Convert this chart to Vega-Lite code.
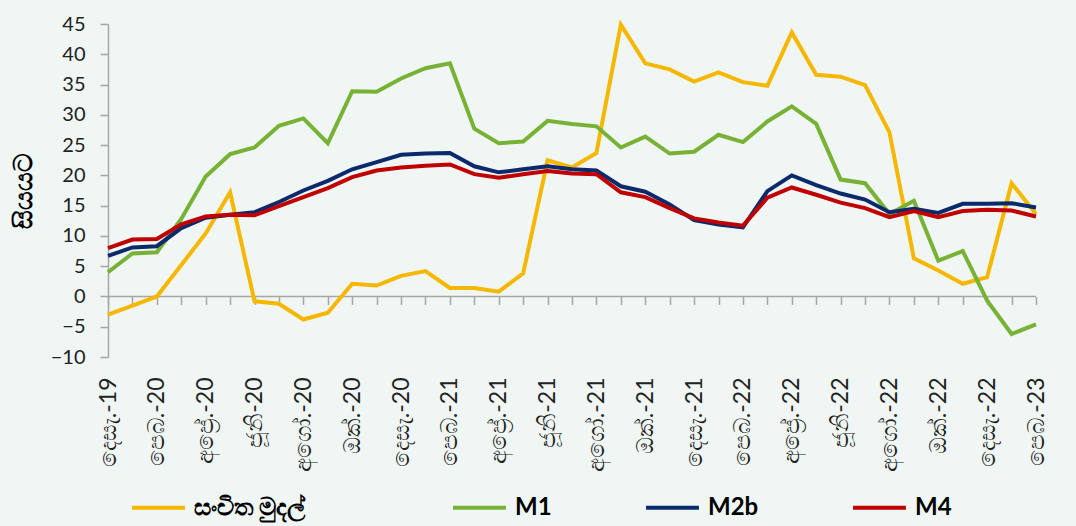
{
  "$schema": "https://vega.github.io/schema/vega-lite/v6.json",
  "width": 928,
  "height": 333,
  "autosize": {"type": "none"},
  "padding": {"left": 108, "top": 24, "right": 40, "bottom": 169},
  "background": "#F0F6F4",
  "config": {"view": {"stroke": null}, "font": "Lato"},
  "data": {"values": [
    {"month": "දෙසැ.-19", "reserve": -3.0, "m1": 4.0, "m2b": 6.7, "m4": 8.0},
    {"month": "ජන.-20", "reserve": -1.5, "m1": 7.1, "m2b": 8.1, "m4": 9.4},
    {"month": "පෙබ.-20", "reserve": 0.0, "m1": 7.3, "m2b": 8.3, "m4": 9.5},
    {"month": "මාර්.-20", "reserve": 5.2, "m1": 12.8, "m2b": 11.3, "m4": 11.9},
    {"month": "අප්\u200dරේ.-20", "reserve": 10.4, "m1": 19.8, "m2b": 13.0, "m4": 13.2},
    {"month": "මැයි-20", "reserve": 17.2, "m1": 23.5, "m2b": 13.5, "m4": 13.5},
    {"month": "ජූනි-20", "reserve": -0.8, "m1": 24.6, "m2b": 13.9, "m4": 13.4},
    {"month": "ජූලි-20", "reserve": -1.2, "m1": 28.2, "m2b": 15.6, "m4": 14.9},
    {"month": "අගෝ.-20", "reserve": -3.8, "m1": 29.4, "m2b": 17.5, "m4": 16.4},
    {"month": "සැප්.-20", "reserve": -2.7, "m1": 25.3, "m2b": 19.1, "m4": 17.9},
    {"month": "ඔක්.-20", "reserve": 2.1, "m1": 33.9, "m2b": 21.0, "m4": 19.7},
    {"month": "නොවැ.-20", "reserve": 1.8, "m1": 33.8, "m2b": 22.2, "m4": 20.8},
    {"month": "දෙසැ.-20", "reserve": 3.4, "m1": 36.0, "m2b": 23.4, "m4": 21.3},
    {"month": "ජන.-21", "reserve": 4.2, "m1": 37.7, "m2b": 23.6, "m4": 21.6},
    {"month": "පෙබ.-21", "reserve": 1.4, "m1": 38.5, "m2b": 23.7, "m4": 21.8},
    {"month": "මාර්.-21", "reserve": 1.4, "m1": 27.7, "m2b": 21.5, "m4": 20.2},
    {"month": "අප්\u200dරේ.-21", "reserve": 0.8, "m1": 25.3, "m2b": 20.5, "m4": 19.6},
    {"month": "මැයි-21", "reserve": 3.8, "m1": 25.6, "m2b": 21.0, "m4": 20.2},
    {"month": "ජූනි-21", "reserve": 22.5, "m1": 29.0, "m2b": 21.5, "m4": 20.7},
    {"month": "ජූලි-21", "reserve": 21.3, "m1": 28.5, "m2b": 21.0, "m4": 20.3},
    {"month": "අගෝ.-21", "reserve": 23.7, "m1": 28.1, "m2b": 20.8, "m4": 20.2},
    {"month": "සැප්.-21", "reserve": 44.9, "m1": 24.6, "m2b": 18.2, "m4": 17.2},
    {"month": "ඔක්.-21", "reserve": 38.5, "m1": 26.4, "m2b": 17.3, "m4": 16.4},
    {"month": "නොවැ.-21", "reserve": 37.5, "m1": 23.6, "m2b": 15.2, "m4": 14.6},
    {"month": "දෙසැ.-21", "reserve": 35.5, "m1": 23.9, "m2b": 12.6, "m4": 12.9},
    {"month": "ජන.-22", "reserve": 37.0, "m1": 26.7, "m2b": 11.9, "m4": 12.2},
    {"month": "පෙබ.-22", "reserve": 35.4, "m1": 25.5, "m2b": 11.4, "m4": 11.7},
    {"month": "මාර්.-22", "reserve": 34.8, "m1": 28.9, "m2b": 17.4, "m4": 16.3},
    {"month": "අප්\u200dරේ.-22", "reserve": 43.6, "m1": 31.4, "m2b": 20.0, "m4": 18.0},
    {"month": "මැයි-22", "reserve": 36.6, "m1": 28.5, "m2b": 18.4, "m4": 16.8},
    {"month": "ජූනි-22", "reserve": 36.3, "m1": 19.3, "m2b": 17.0, "m4": 15.5},
    {"month": "ජූලි-22", "reserve": 34.9, "m1": 18.7, "m2b": 16.0, "m4": 14.6},
    {"month": "අගෝ.-22", "reserve": 27.1, "m1": 13.6, "m2b": 13.9, "m4": 13.1},
    {"month": "සැප්.-22", "reserve": 6.3, "m1": 15.8, "m2b": 14.5, "m4": 14.1},
    {"month": "ඔක්.-22", "reserve": 4.3, "m1": 5.9, "m2b": 13.8, "m4": 13.1},
    {"month": "නොවැ.-22", "reserve": 2.1, "m1": 7.5, "m2b": 15.3, "m4": 14.1},
    {"month": "දෙසැ.-22", "reserve": 3.2, "m1": -0.7, "m2b": 15.3, "m4": 14.3},
    {"month": "ජන.-23", "reserve": 18.7, "m1": -6.2, "m2b": 15.4, "m4": 14.2},
    {"month": "පෙබ.-23", "reserve": 13.6, "m1": -4.6, "m2b": 14.7, "m4": 13.2}
  ]},
  "layer": [
    {
      "mark": {"type": "line", "color": "#A6A6A6", "strokeWidth": 1.5},
      "encoding": {
        "x": {"field": "month", "type": "ordinal", "sort": null,
              "scale": {"type": "point", "padding": 0},
              "axis": {"orient": "bottom", "offset": -60.5, "labels": false, "domain": false,
                       "ticks": true, "tickSize": 8, "tickColor": "#A6A6A6", "tickWidth": 1.5,
                       "title": null, "grid": false}},
        "y": {"datum": 0, "type": "quantitative",
              "scale": {"domain": [-10, 45], "nice": false, "zero": false},
              "axis": {"title": "සියයට", "titleFontSize": 26, "titleFontWeight": "bold", "titleColor": "#000000",
                       "titlePadding": 14, "values": [-10, -5, 0, 5, 10, 15, 20, 25, 30, 35, 40, 45],
                       "labelFontSize": 20, "labelColor": "#222222", "labelPadding": 15,
                       "tickSize": 8, "tickColor": "#A6A6A6", "tickWidth": 1.5,
                       "domainColor": "#A6A6A6", "domainWidth": 1.5, "grid": false}}
      }
    },
    {
      "transform": [{"fold": ["reserve", "m1", "m2b", "m4"], "as": ["series", "value"]}],
      "mark": {"type": "line", "strokeWidth": 4},
      "encoding": {
        "x": {"field": "month", "type": "ordinal", "sort": null,
              "scale": {"type": "point", "padding": 0},
              "axis": {"orient": "bottom", "values": ["දෙසැ.-19", "පෙබ.-20", "අප්\u200dරේ.-20", "ජූනි-20", "අගෝ.-20", "ඔක්.-20", "දෙසැ.-20", "පෙබ.-21", "අප්\u200dරේ.-21", "ජූනි-21", "අගෝ.-21", "ඔක්.-21", "දෙසැ.-21", "පෙබ.-22", "අප්\u200dරේ.-22", "ජූනි-22", "අගෝ.-22", "ඔක්.-22", "දෙසැ.-22", "පෙබ.-23"],
                       "labelAngle": 270, "labelFontSize": 23, "labelPadding": 20, "labelColor": "#222222",
                       "domain": false, "ticks": false, "title": null, "grid": false}},
        "y": {"field": "value", "type": "quantitative",
              "scale": {"domain": [-10, 45], "nice": false, "zero": false},
              "axis": {"title": "සියයට", "titleFontSize": 26, "titleFontWeight": "bold", "titleColor": "#000000",
                       "titlePadding": 14, "values": [-10, -5, 0, 5, 10, 15, 20, 25, 30, 35, 40, 45],
                       "labelFontSize": 20, "labelColor": "#222222", "labelPadding": 15,
                       "tickSize": 8, "tickColor": "#A6A6A6", "tickWidth": 1.5,
                       "domainColor": "#A6A6A6", "domainWidth": 1.5, "grid": false}},
        "color": {"field": "series", "type": "nominal",
                  "scale": {"domain": ["reserve", "m1", "m2b", "m4"], "range": ["#F5B700", "#78B234", "#0B2A6B", "#C00000"]},
                  "legend": {"orient": "none", "legendX": 22, "legendY": 455, "direction": "horizontal",
                             "title": null, "symbolType": "stroke", "symbolSize": 2800, "symbolStrokeWidth": 4,
                             "labelFontSize": 24, "labelFontWeight": "bold", "labelColor": "#000000",
                             "columnPadding": 86, "labelOffset": 7, "labelLimit": 300,
                             "labelExpr": "{'reserve': 'සංචිත මුදල්\u2800\u2800\u2800', 'm1': 'M1', 'm2b': 'M2b', 'm4': 'M4'}[datum.label]"}}
      }
    }
  ],
  "resolve": {"axis": {"x": "independent"}}
}
